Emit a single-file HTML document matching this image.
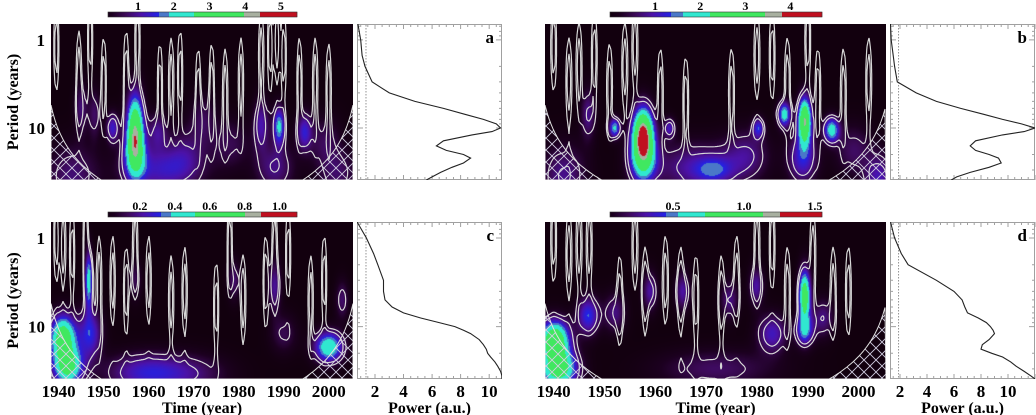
<!DOCTYPE html>
<html><head><meta charset="utf-8">
<style>
html,body{margin:0;padding:0;background:#fff;}
#wrap{position:relative;width:1036px;height:415px;overflow:hidden;font-family:"Liberation Serif",serif;}
canvas{position:absolute;}
svg{position:absolute;left:0;top:0;}
</style></head>
<body>
<div id="wrap">
<canvas id="hmA"></canvas>
<canvas id="hmB"></canvas>
<canvas id="hmC"></canvas>
<canvas id="hmD"></canvas>
<svg id="ov" width="1036" height="415"></svg>
</div>
<script>
// ---- data ----
const aYears=[1957,1957,1952,1962,1989,1985,1994.6,1963,1988,1943,2002,1945,1972,1948,1968,1978,1999];
const aPeriods=[10.5,20,10,11,9.5,9,11,30,28,35,33,6,8,7,18,15,14];
const aAmps=[3.6,1.5,1.3,0.9,2.0,1.1,1.3,1.2,0.9,0.8,0.7,0.8,0.6,0.7,0.6,0.6,0.6];
const aTw=[1.3,1.8,1.0,1.5,0.9,1.2,1.2,6,3,4,3,1,2,1,3,3,2.5];
const aLw=[0.28,0.2,0.12,0.15,0.15,0.2,0.15,0.18,0.2,0.25,0.2,0.2,0.2,0.2,0.2,0.2,0.2];
const aFingerYears=[1939.5,1944.5,1947,1950,1955,1957.5,1962.5,1965,1967,1971,1974,1977,1980.5,1985,1987,1988.5,1990,1993.5,1997,2000];
const aFingerPeriods=[1.2,2.5,1.0,3,2.5,1.0,3.5,3,2.5,4,3.5,4,3,1.5,1.2,1.0,1.5,3,3,3.5];

const bYears=[1957.6,1957.6,1989.4,1985.4,1994.7,1952,1962.8,1980.3,1971.5,1968,1946.8,1942,2004,1989,1978,1999];
const bPeriods=[11.3,22,8.3,7,10.5,10,10,10,30,28,7,35,38,22,20,18];
const bAmps=[3.6,2.2,3.4,1.9,1.9,1.7,1.0,1.2,0.8,0.9,0.8,0.8,1.0,1.2,0.7,0.6];
const bTw=[1.4,1.8,0.9,0.9,1.1,0.8,0.8,0.8,2.5,6,1,3,2,2,3,2.5];
const bLw=[0.2,0.2,0.18,0.1,0.1,0.08,0.08,0.08,0.1,0.2,0.2,0.25,0.2,0.2,0.2,0.2];
const bFingerYears=[1940,1943,1945,1948,1951,1954,1956,1961,1966,1975,1980,1983,1986,1990,1992,1997,2002];
const bFingerPeriods=[1.2,3,2,1.5,3.5,2,1.2,4,5,4,1.5,1.5,3,1.0,4,4,3];

const cYears=[1941,1942,2000,1946.7,1947,1959,1979,1988,2003,1957,1990,1969];
const cPeriods=[13,28,17,3,12,33,3,3.5,5,3,12,34];
const cAmps=[0.65,0.6,0.5,0.45,0.3,0.25,0.15,0.2,0.15,0.12,0.12,0.15];
const cTw=[2.0,2.3,2.2,0.6,1.8,6,1,1,1,1,2,6];
const cLw=[0.17,0.15,0.12,0.22,0.2,0.15,0.15,0.2,0.15,0.15,0.15,0.15];
const cFingerYears=[1939.5,1941,1943,1946,1949,1952,1955,1957,1960,1965,1968,1975,1978,1981,1986,1988,1991,1996,1999];
const cFingerPeriods=[1.0,1.2,1.5,1.0,3,3,4,1.2,3,5,4,6,1.2,5,3,1.2,1.5,5,3];

const dYears=[1940.2,1941,1989.4,1989.4,1946.8,1952,1959,1965.4,1974.6,1979.9,1983,1972,1993];
const dPeriods=[14,30,4.5,11,7.5,7,4,4,5,3.5,12,30,8];
const dAmps=[1.0,0.9,0.95,0.5,0.45,0.25,0.3,0.3,0.25,0.3,0.35,0.2,0.25];
const dTw=[2,2.5,0.8,1.2,1.5,1.5,1,1,1.2,1,2,8,1.5];
const dLw=[0.15,0.15,0.2,0.12,0.15,0.15,0.15,0.15,0.15,0.15,0.15,0.15,0.15];
const dFingerYears=[1940,1943,1945,1947,1953,1956,1958,1962,1965,1968,1973,1976,1980,1983,1986,1991,1995,1998];
const dFingerPeriods=[1.0,1.5,1.2,1.2,5,1.2,4,3,4,5,5,3,1.2,1.2,4,1.5,4,4];

const gPeriods=[0.66,1,1.5,2,3,4,5,6,7,8,9,10,11,12,14,16,18,20,22,25,28,32,36,39];
const aPower=[0.8,1.0,1.1,1.3,1.8,3.0,4.8,6.8,8.3,9.6,10.5,10.8,10.2,8.8,6.8,6.3,7.0,8.2,8.7,8.2,7.4,6.6,6.0,5.6];
const bPower=[1.3,1.35,1.5,1.6,1.8,3.2,4.7,6.5,8.2,9.6,11,12,11.2,9.6,7.6,7.2,7.6,8.6,9.3,9.5,8.6,7.2,6.2,5.8];
const cPower=[0.75,1.4,1.9,2.2,2.6,2.6,2.7,3.2,4.0,5.2,6.5,7.6,8.2,8.7,9.3,9.6,9.8,9.9,10.1,10.4,10.6,10.8,10.9,10.9];
const dPower=[1.3,1.6,2.1,2.6,4.7,6.0,6.6,6.8,7.0,7.8,8.4,8.7,8.9,9.0,8.6,8.1,8.0,8.8,9.6,10.2,10.6,11.2,11.7,12];

const yearTicks=[1940,1950,1960,1970,1980,1990,2000];
const powerTicks=[2,4,6,8,10];
const periodTicks=[1,10];
const aBarTicks=[1,2,3,4,5], bBarTicks=[1,2,3,4], cBarTicks=[0.2,0.4,0.6,0.8,1.0], dBarTicks=[0.5,1.0,1.5];
const cbMin=[0.16,0.0,0.017,0.056], cbMax=[5.45,4.7,1.1,1.55];
const sigPower=[1.37,1.9,1.37,1.9];

const T0=1938.3,T1=2005.4,P0=0.66,P1=39;
const NS="http://www.w3.org/2000/svg";
const ov=document.getElementById('ov');
function mk(tag,attrs,parent){const e=document.createElementNS(NS,tag);for(const k in attrs)e.setAttribute(k,attrs[k]);(parent||ov).appendChild(e);return e;}

function hex(h){return [parseInt(h.substr(1,2),16),parseInt(h.substr(3,2),16),parseInt(h.substr(5,2),16)];}
const gradStops=[[0,'#12000e'],[0.05,'#1c0020'],[0.12,'#3c0a58'],[0.2,'#4c12a8'],[0.29,'#2222e6']];
function cmap(f){
  if(f<0.29){
    for(let i=1;i<gradStops.length;i++){
      if(f<=gradStops[i][0]){const a=gradStops[i-1],b=gradStops[i];const t=Math.max(0,(f-a[0])/(b[0]-a[0]));const ca=hex(a[1]),cb=hex(b[1]);return [0,1,2].map(k=>Math.round(ca[k]+(cb[k]-ca[k])*t));}
    }
  }
  if(f<0.345)return hex('#4a78c8');
  if(f<0.47)return hex('#30e8d0');
  if(f<0.73)return hex('#40e860');
  if(f<0.81)return hex('#a8b0a0');
  return hex('#c01020');
}

const panels=[
 {id:'a',hx:51,hy:24,hw:302,hh:156,px:357,pw:145,pmin:0.74,pmax:10.9,cbx:108,cbw:189,cby:12,years:aYears,periods:aPeriods,amps:aAmps,tw:aTw,lw:aLw,fy:aFingerYears,fp:aFingerPeriods,power:aPower,ticks:aBarTicks,k:0,left:true,bottom:false},
 {id:'b',hx:545,hy:24,hw:341,hh:156,px:890,pw:145,pmin:1.26,pmax:12,cbx:610,cbw:212,cby:12,years:bYears,periods:bPeriods,amps:bAmps,tw:bTw,lw:bLw,fy:bFingerYears,fp:bFingerPeriods,power:bPower,ticks:bBarTicks,k:1,left:false,bottom:false},
 {id:'c',hx:51,hy:222,hw:302,hh:157,px:357,pw:145,pmin:0.74,pmax:10.9,cbx:108,cbw:189,cby:212,years:cYears,periods:cPeriods,amps:cAmps,tw:cTw,lw:cLw,fy:cFingerYears,fp:cFingerPeriods,power:cPower,ticks:cBarTicks,k:2,left:true,bottom:true},
 {id:'d',hx:545,hy:222,hw:341,hh:157,px:890,pw:145,pmin:1.26,pmax:12,cbx:610,cbw:212,cby:212,years:dYears,periods:dPeriods,amps:dAmps,tw:dTw,lw:dLw,fy:dFingerYears,fp:dFingerPeriods,power:dPower,ticks:dBarTicks,k:3,left:false,bottom:true}
];

panels.forEach(p=>{
  const vmax=cbMax[p.k],vmin=cbMin[p.k];
  const xOf=t=>p.hx+(t-T0)/(T1-T0)*p.hw;
  const tOf=x=>T0+(x-p.hx)/p.hw*(T1-T0);
  const lp0=Math.log10(P0),lp1=Math.log10(P1);
  const yOf=P=>p.hy+(Math.log10(P)-lp0)/(lp1-lp0)*p.hh;
  const lpOf=y=>lp0+(y-p.hy)/p.hh*(lp1-lp0);
  const field=(t,lp)=>{let v=0;for(let i=0;i<p.years.length;i++){const dt=(t-p.years[i])/p.tw[i];const dl=(lp-Math.log10(p.periods[i]))/p.lw[i];v+=p.amps[i]*Math.exp(-0.5*(dt*dt+dl*dl));}return v;};
  const L0=0.1*vmax;
  const fingers=(t,lp)=>{let v=0;for(let i=0;i<p.fy.length;i++){const dt=(t-p.fy[i])/0.45;const dl=(lp-Math.log10(p.fp[i]))/0.4;v+=2.2*L0*Math.exp(-0.5*(dt*dt+dl*dl));}return v;};
  const cv=document.getElementById('hm'+p.id.toUpperCase());
  cv.width=p.hw;cv.height=p.hh;cv.style.left=p.hx+'px';cv.style.top=p.hy+'px';
  const ctx=cv.getContext('2d');const img=ctx.createImageData(p.hw,p.hh);
  for(let j=0;j<p.hh;j++){const lp=lpOf(p.hy+j+0.5);for(let i=0;i<p.hw;i++){const v=field(tOf(p.hx+i+0.5),lp);const c=cmap(v/vmax);const o=(j*p.hw+i)*4;img.data[o]=c[0];img.data[o+1]=c[1];img.data[o+2]=c[2];img.data[o+3]=255;}}
  ctx.putImageData(img,0,0);
  const cid='clip'+p.id;
  const cp=mk('clipPath',{id:cid});mk('rect',{x:p.hx,y:p.hy,width:p.hw,height:p.hh},cp);
  const g=mk('g',{'clip-path':'url(#'+cid+')'});
  
  
  const step=2,nx=Math.ceil(p.hw/step)+1,ny=Math.ceil(p.hh/step)+1;
  const grid=[];for(let j=0;j<ny;j++){const row=[];const lp=lpOf(p.hy+j*step);for(let i=0;i<nx;i++){const t=tOf(p.hx+i*step);row.push(field(t,lp)+fingers(t,lp));}grid.push(row);}
  [0.1,0.16].forEach(fr=>{
    const L=fr*vmax;let d='';
    for(let j=0;j<ny-1;j++)for(let i=0;i<nx-1;i++){
      const v0=grid[j][i],v1=grid[j][i+1],v2=grid[j+1][i+1],v3=grid[j+1][i];
      const x=p.hx+i*step,y=p.hy+j*step;const pts=[];
      const e=(va,vb,xa,ya,xb,yb)=>{const t=(L-va)/(vb-va);pts.push([xa+(xb-xa)*t,ya+(yb-ya)*t]);};
      if((v0>L)!=(v1>L))e(v0,v1,x,y,x+step,y);
      if((v1>L)!=(v2>L))e(v1,v2,x+step,y,x+step,y+step);
      if((v2>L)!=(v3>L))e(v2,v3,x+step,y+step,x,y+step);
      if((v3>L)!=(v0>L))e(v3,v0,x,y+step,x,y);
      for(let q=0;q+1<pts.length;q+=2)d+='M'+pts[q][0].toFixed(1)+' '+pts[q][1].toFixed(1)+'L'+pts[q+1][0].toFixed(1)+' '+pts[q+1][1].toFixed(1);
    }
    mk('path',{d:d,stroke:'#d8d8d8','stroke-width':1.2,fill:'none'},g);
  });
  const coi=t=>5.5+3*Math.min(t-T0,T1-t);
  let cd='M'+p.hx+' '+(p.hy+p.hh);
  for(let x=p.hx;x<=p.hx+p.hw;x+=2){const P=coi(tOf(x));cd+='L'+x+' '+Math.min(yOf(P),p.hy+p.hh+2).toFixed(1);}
  cd+='L'+(p.hx+p.hw)+' '+(p.hy+p.hh)+'Z';
  const pid='hatch'+p.id;
  const pat=mk('pattern',{id:pid,patternUnits:'userSpaceOnUse',width:12,height:12});
  mk('path',{d:'M0 0L12 12M12 0L0 12',stroke:'#d0cce0','stroke-width':0.9},pat);
  const coiEl=mk('path',{d:cd,fill:'url(#'+pid+')',stroke:'#e0e0e0','stroke-width':1},g);
  
  
  if(p.left){periodTicks.forEach(P=>{const t=mk('text',{x:45,y:yOf(P)+6,'text-anchor':'end','font-size':17,'font-weight':'bold'});t.textContent=P;
    });
    const yl=mk('text',{x:0,y:0,transform:'translate(18,'+(p.hy+p.hh/2)+') rotate(-90)','text-anchor':'middle','font-size':16,'font-weight':'bold'});yl.textContent='Period (years)';
    }
  if(p.bottom){
    yearTicks.forEach(Y=>{const t=mk('text',{x:xOf(Y),y:397,'text-anchor':'middle','font-size':17,'font-weight':'bold'});t.textContent=Y;
      });
    const xl=mk('text',{x:p.hx+p.hw/2,y:413,'text-anchor':'middle','font-size':16,'font-weight':'bold'});xl.textContent='Time (year)';
    
  }
  const xP=v=>p.px+(v-p.pmin)/(p.pmax-p.pmin)*p.pw;
  const fr=mk('rect',{x:p.px+0.5,y:p.hy+0.5,width:p.pw-1,height:p.hh-1,fill:'#fff',stroke:'#a0a0a0','stroke-width':1});
  
  let td='';
  for(let v=Math.ceil(p.pmin*2)/2;v<=p.pmax;v+=0.5){const x=xP(v).toFixed(1);const L=(Math.abs(v-Math.round(v/2)*2)<0.01)?5:3;td+='M'+x+' '+(p.hy+p.hh)+'v-'+L+'M'+x+' '+p.hy+'v'+L;}
  for(let e=-1;e<=1;e++)for(let m=1;m<10;m++){const P=m*Math.pow(10,e);if(P<P0||P>P1)continue;const y=yOf(P).toFixed(1);const L=m==1?6:3;td+='M'+p.px+' '+y+'h'+L+'M'+(p.px+p.pw)+' '+y+'h-'+L;}
  mk('path',{d:td,stroke:'#a0a0a0','stroke-width':1,fill:'none'});
  const sx=xP(sigPower[p.k]);
  const sl=mk('line',{x1:sx,x2:sx,y1:p.hy+1,y2:p.hy+p.hh-1,stroke:'#777','stroke-width':0.8,'stroke-dasharray':'1.5,1.5'});
  
  const pcp=mk('clipPath',{id:'pc'+p.id});mk('rect',{x:p.px,y:p.hy,width:p.pw,height:p.hh},pcp);
  let pd='';gPeriods.forEach((P,i)=>{pd+=(i?'L':'M')+xP(p.power[i]).toFixed(1)+' '+yOf(P).toFixed(1);});
  const pl=mk('path',{d:pd,stroke:'#222','stroke-width':1.1,fill:'none','clip-path':'url(#pc'+p.id+')'});
  
  const lt=mk('text',{x:p.px+p.pw-8,y:p.hy+19,'text-anchor':'end','font-size':17,'font-weight':'bold'});lt.textContent=p.id;
  
  if(p.bottom){
    powerTicks.forEach(v=>{const t=mk('text',{x:xP(v),y:397,'text-anchor':'middle','font-size':17,'font-weight':'bold'});t.textContent=v;
      });
    const pt=mk('text',{x:p.px+p.pw/2,y:413,'text-anchor':'middle','font-size':16,'font-weight':'bold'});pt.textContent='Power (a.u.)';
    
  }
  const cb=mk('g',{});
  
  for(let i=0;i<p.cbw;i++){const v=vmin+(i+0.5)/p.cbw*(vmax-vmin);const c=cmap(v/vmax);mk('rect',{x:p.cbx+i,y:p.cby,width:1.2,height:5,fill:'rgb('+c.join(',')+')'},cb);}
  mk('rect',{x:p.cbx,y:p.cby,width:p.cbw,height:5,fill:'none',stroke:'#333','stroke-width':0.6},cb);
  const xC=v=>p.cbx+(v-vmin)/(vmax-vmin)*p.cbw;
  p.ticks.forEach(v=>{const t=mk('text',{x:xC(v),y:p.cby-2,'text-anchor':'middle','font-size':12,'font-weight':'bold'},cb);t.textContent=(p.k>=2?v.toFixed(1):v);
    });
});
</script>
</body></html>
